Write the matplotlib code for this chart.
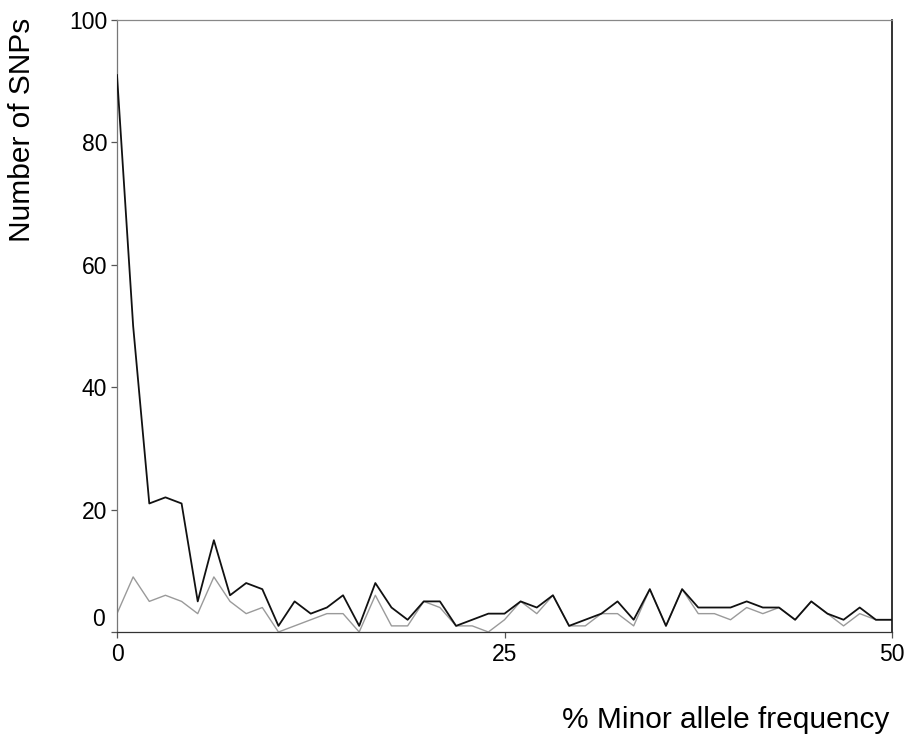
import matplotlib
matplotlib.use("Agg")
import matplotlib.pyplot as plt

plt.rcParams['font.family'] = ['Liberation Sans', 'DejaVu Sans']

# allele counts out of 96 chromosomes -> % minor allele frequency
allele_count = list(range(49))
maf = [k * 100 / 96 for k in allele_count]

# number of SNPs per frequency class (all SNPs, black)
snps_all = [91, 50, 21, 22, 21, 5, 15, 6, 8, 7,
            1, 5, 3, 4, 6, 1, 8, 4, 2, 5,
            5, 1, 2, 3, 3, 5, 4, 6, 1, 2,
            3, 5, 2, 7, 1, 7, 4, 4, 4, 5,
            4, 4, 2, 5, 3, 2, 4, 2, 2]

# subset (grey)
snps_sub = [3, 9, 5, 6, 5, 3, 9, 5, 3, 4,
            0, 1, 2, 3, 3, 0, 6, 1, 1, 5,
            4, 1, 1, 0, 2, 5, 3, 6, 1, 1,
            3, 3, 1, 7, 1, 7, 3, 3, 2, 4,
            3, 4, 2, 5, 3, 1, 3, 2, 2]

x_ticks = [0, 25, 50]
y_ticks = [0, 20, 40, 60, 80, 100]

fig = plt.figure(figsize=(9.06, 7.40), dpi=100)
ax = fig.add_axes([117 / 906, 1 - 632 / 740, (892 - 117) / 906, (632 - 20) / 740])

ax.plot(maf, snps_sub, color='#9a9a9a', lw=1.0, zorder=2)
ax.plot(maf, snps_all, color='#111111', lw=1.3, zorder=3)

ax.set_xlim(0, 50)
ax.set_ylim(0, 100)
ax.set_xticks(x_ticks)
ax.set_yticks(y_ticks)
ax.set_yticklabels(['' if v == 0 else str(v) for v in y_ticks])
# the zero of the y axis sits a little above the x axis line in the original
ax.annotate('0', xy=(0, 0), xycoords=('axes fraction', 'data'),
            xytext=(-9, 9), textcoords='offset points',
            ha='right', va='center', fontsize=16.5)

ax.tick_params(axis='both', direction='out', length=4, width=0.9,
               labelsize=16.5, color='#555555', pad=3)
ax.tick_params(axis='x', pad=4)

ax.spines['left'].set_color('#777777')
ax.spines['top'].set_color('#888888')
ax.spines['bottom'].set_color('#333333')
ax.spines['right'].set_color('#111111')
for s in ax.spines.values():
    s.set_linewidth(0.9)
ax.spines['right'].set_linewidth(1.2)

fig.text(22 / 906, 1 - 18 / 740, 'Number of SNPs', rotation=90,
         ha='center', va='top', fontsize=21.5)
fig.text(889 / 906, 1 - 728 / 740, '% Minor allele frequency',
         ha='right', va='baseline', fontsize=21.5)

fig.savefig('out.png', dpi=100)
